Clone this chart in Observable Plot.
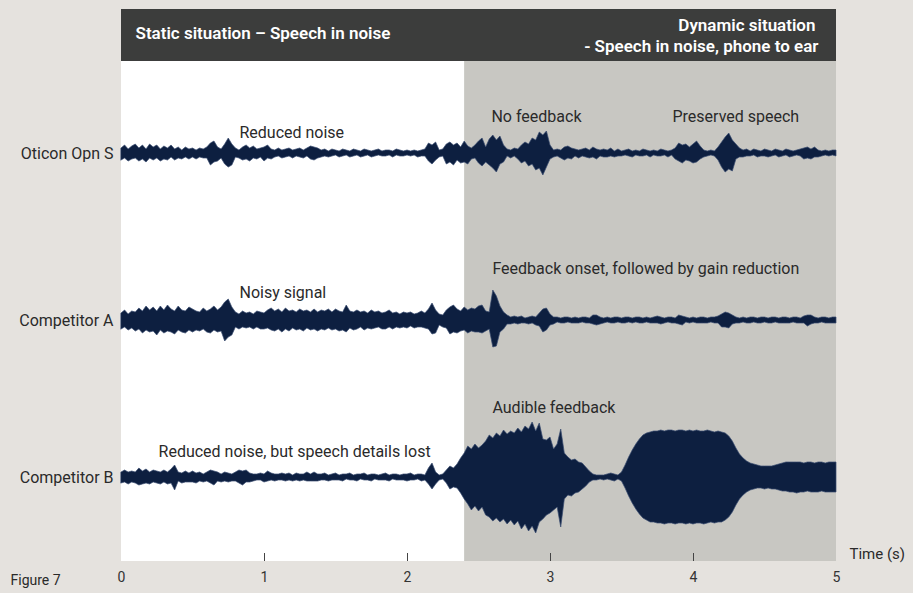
<!DOCTYPE html>
<html><head><meta charset="utf-8">
<script src="https://cdn.jsdelivr.net/npm/d3@7"></script>
<script src="https://cdn.jsdelivr.net/npm/@observablehq/plot@0.6"></script>
<style>html,body{margin:0;padding:0;background:#e5e2de;overflow:hidden}</style>
</head><body><div id="chart"></div>
<script>
// ---- data: upper / lower waveform envelope (arbitrary amplitude units), sampled every 0.025 s ----
const timeStep = 0.025;
const seriesNames = ["Oticon Opn S", "Competitor A", "Competitor B"];
const tickValues = [0, 1, 2, 3, 4, 5];
const dynamicStart = 2.4;

const oticonUpper = [
 5,8,4,7,9,5,8,4,9,6,8,4,7,5,8,4,6,3,6,4,
 5,3,5,4,6,10,12,6,4,9,15,9,5,3,6,8,5,7,4,5,
 6,8,4,3,5,3,4,5,3,4,5,3,5,7,6,5,3,4,2,4,
 3,2,4,3,2,4,3,2,4,3,2,3,4,2,3,3,2,4,3,2,
 3,2,3,2,3,4,10,8,11,3,4,9,11,8,10,6,12,7,5,8,
 12,15,6,14,18,13,17,8,4,3,5,4,8,11,9,15,13,21,18,22,
 8,3,4,3,6,7,5,4,3,4,5,3,6,4,3,4,3,5,2,4,
 2,3,4,2,3,2,4,3,2,3,2,4,3,2,3,5,10,8,9,6,
 9,12,7,3,2,3,2,6,11,16,20,13,9,5,3,4,2,4,3,2,
 4,3,2,4,3,2,4,3,2,3,4,5,6,4,6,3,2,3,2,3,
 3
];
const oticonLower = [
 7,5,8,6,5,8,6,9,5,7,5,8,6,7,4,7,5,6,4,6,
 4,6,4,5,5,12,9,8,5,11,14,12,4,5,7,6,8,5,6,4,
 8,5,6,4,3,5,4,3,5,3,4,5,3,6,7,5,4,3,4,3,
 2,4,3,2,4,3,2,4,3,2,4,3,2,3,3,2,4,2,3,3,
 2,3,2,4,3,3,8,11,7,4,3,11,9,12,7,10,9,11,6,5,
 10,13,9,12,15,19,11,9,3,5,3,6,10,8,13,11,17,15,22,14,
 6,4,3,5,7,5,6,3,5,3,4,5,4,6,3,4,4,3,4,3,
 3,2,3,4,2,3,3,2,4,2,3,3,2,4,2,6,8,10,7,8,
 10,9,6,4,3,2,3,7,14,19,16,18,6,4,4,3,3,2,4,3,
 3,4,3,2,4,3,2,4,3,2,3,6,5,6,4,4,3,2,3,2,
 3
];
const competitorAUpper = [
 7,10,6,9,8,12,9,14,10,13,9,14,10,15,11,9,14,10,9,13,
 11,9,8,12,9,11,14,10,13,18,21,13,8,6,9,7,8,6,9,8,
 7,10,12,9,11,8,12,9,10,8,11,9,10,8,11,8,10,9,11,8,
 11,9,8,15,9,8,10,8,9,7,10,8,9,7,8,10,7,8,6,8,
 7,8,6,7,9,7,11,17,10,6,5,10,13,15,11,9,13,10,12,11,
 14,15,9,8,30,24,14,8,5,3,4,3,4,2,3,4,3,7,11,12,
 6,3,3,2,3,3,2,3,2,3,3,2,5,5,3,2,3,2,3,3,
 2,3,3,2,3,3,2,3,2,3,4,3,2,3,3,2,5,4,3,2,
 3,2,3,3,2,3,3,4,6,8,7,5,3,2,3,2,3,3,2,3,
 3,2,3,3,2,3,3,2,3,3,2,4,5,5,3,2,3,3,2,3,
 3
];
const competitorALower = [
 9,7,10,8,11,9,13,10,12,11,15,10,13,11,12,14,10,12,13,10,
 12,10,11,9,12,13,10,12,11,21,17,15,7,9,7,8,7,9,7,9,
 9,8,10,11,9,12,9,11,8,10,9,11,8,10,9,11,9,10,8,10,
 9,11,10,12,8,10,9,7,10,8,9,8,7,9,9,7,9,7,8,7,
 8,6,8,7,7,8,9,14,13,5,7,8,14,12,13,11,10,13,11,12,
 12,13,11,9,27,26,12,9,4,4,3,4,3,3,4,3,5,6,12,10,
 5,4,2,3,3,2,3,3,3,2,3,3,4,5,4,3,2,3,3,2,
 3,3,2,3,2,3,3,2,3,3,3,4,3,2,3,3,4,5,2,3,
 2,3,3,3,3,2,3,3,7,7,8,4,3,3,2,3,3,2,3,3,
 2,3,3,2,3,3,3,3,2,3,3,3,6,4,3,3,2,3,3,3,
 3
];
const competitorBUpper = [
 5,7,5,6,5,9,6,8,5,7,6,5,7,5,8,12,5,4,6,4,
 6,4,5,3,5,7,6,5,3,5,4,3,5,7,6,7,4,3,3,4,
 3,6,4,3,3,4,3,4,2,4,3,3,5,3,5,3,3,4,2,3,
 4,2,3,3,4,2,3,3,4,2,3,3,2,3,4,2,3,3,2,3,
 3,4,2,3,3,2,9,14,5,2,3,7,11,9,13,19,24,31,28,33,
 29,32,36,42,39,44,41,47,43,46,44,49,45,51,48,55,46,54,38,37,
 40,28,33,48,24,20,17,18,15,14,10,6,3,2,2,2,3,4,3,2,
 5,12,20,27,33,38,42,44,45,46,46,47,46,47,47,46,47,47,46,47,
 46,47,46,46,47,46,45,46,45,44,41,36,29,23,19,16,14,13,12,11,
 11,11,11,12,13,14,15,15,15,15,15,14,15,15,14,15,15,14,15,15,
 15
];
const competitorBLower = [
 6,5,7,5,6,8,7,6,7,5,6,7,5,7,6,13,4,6,5,5,
 5,6,4,5,4,6,8,4,5,4,5,4,4,6,8,5,5,4,3,3,
 5,4,3,4,3,3,4,3,4,3,4,3,4,4,4,4,3,3,4,3,
 3,3,4,2,3,3,4,2,3,3,4,2,3,3,3,4,2,3,3,3,
 4,3,3,2,4,3,7,12,7,3,2,6,12,10,11,16,22,27,33,29,
 34,30,38,40,44,41,45,42,47,43,48,44,52,47,54,49,56,45,42,38,
 36,33,30,50,22,18,19,16,15,12,9,5,3,3,2,3,2,3,4,2,
 4,11,19,26,32,37,41,43,45,45,46,46,47,46,46,47,46,46,47,46,
 47,46,46,47,46,45,46,45,45,43,40,35,28,22,18,15,13,12,11,11,
 12,11,12,12,13,14,14,15,15,16,15,15,14,15,15,15,14,15,15,15,
 15
];

// ---- layout ----
const rowOffsets = [0, -167, -324];
const upperSets = [oticonUpper, competitorAUpper, competitorBUpper];
const lowerSets = [oticonLower, competitorALower, competitorBLower];
const rows = seriesNames.map((name, i) => ({name, offset: rowOffsets[i], upper: upperSets[i], lower: lowerSets[i]}));
const wave = rows.flatMap(r => r.upper.map((a, i) => ({name: r.name, t: i * timeStep, lo: r.offset - r.lower[i], hi: r.offset + a})));

const navy = "#0d1f40";
const yTop = 144, yHeadBottom = 92, yBottom = -408;

const notes = [
  {text: "Reduced noise", t: 0.825, y: 21},
  {text: "No feedback", t: 2.587, y: 37},
  {text: "Preserved speech", t: 3.853, y: 37},
  {text: "Noisy signal", t: 0.825, y: -139},
  {text: "Feedback onset, followed by gain reduction", t: 2.594, y: -115},
  {text: "Reduced noise, but speech details lost", t: 0.259, y: -298},
  {text: "Audible feedback", t: 2.594, y: -254}
];

const chart = Plot.plot({
  width: 913, height: 593,
  marginTop: 9, marginBottom: 32, marginLeft: 121, marginRight: 77,
  x: {domain: [0, 5]},
  y: {domain: [yBottom, yTop], axis: null},
  style: {fontFamily: "Roboto, sans-serif", background: "#e5e2de", color: "#2a2a2a"},
  marks: [
    Plot.rect([{x1: 0, x2: 5}], {x1: "x1", x2: "x2", y1: yHeadBottom, y2: yTop, fill: "#3c3d3c"}),
    Plot.rect([{x1: 0, x2: dynamicStart}], {x1: "x1", x2: "x2", y1: yBottom, y2: yHeadBottom, fill: "#ffffff"}),
    Plot.rect([{x1: dynamicStart, x2: 5}], {x1: "x1", x2: "x2", y1: yBottom, y2: yHeadBottom, fill: "#c8c7c2"}),
    Plot.area(wave, {x1: "t", y1: "lo", y2: "hi", z: "name", fill: navy, stroke: "#3a4c70", strokeWidth: 0.7, curve: "linear"}),
    Plot.ruleX([1, 2, 3, 4], {y1: yBottom, y2: yBottom + 8, stroke: "#444", strokeWidth: 1}),
    Plot.axisX({ticks: tickValues, tickFormat: d3.format("d"), tickSize: 0, tickPadding: 11, label: null, fontSize: 14, fill: "#333"}),
    Plot.text(rows, {x: 0, y: "offset", text: "name", textAnchor: "end", dx: -8, fontSize: 16, fill: "#2a2a2a"}),
    Plot.text(notes, {x: "t", y: "y", text: "text", textAnchor: "start", fontSize: 16, fill: "#2a2a2a"}),
    Plot.text(["Static situation – Speech in noise"], {x: 0, y: 120, dx: 14, textAnchor: "start", fontSize: 17, fontWeight: 600, fill: "#ffffff"}),
    Plot.text(["Dynamic situation"], {x: 5, y: 128, dx: -21, textAnchor: "end", fontSize: 17, fontWeight: 600, fill: "#ffffff"}),
    Plot.text(["- Speech in noise, phone to ear"], {x: 5, y: 107, dx: -18, textAnchor: "end", fontSize: 17, fontWeight: 600, fill: "#ffffff"}),
    Plot.text(["Time (s)"], {x: 5, y: yBottom + 7, dx: 13, textAnchor: "start", fontSize: 15, fill: "#2a2a2a"}),
    Plot.text(["Figure 7"], {frameAnchor: "bottom-left", dx: -111, dy: 23, textAnchor: "start", fontSize: 14, fill: "#2a2a2a"})
  ]
});
document.getElementById("chart").appendChild(chart);
</script>
</body></html>
